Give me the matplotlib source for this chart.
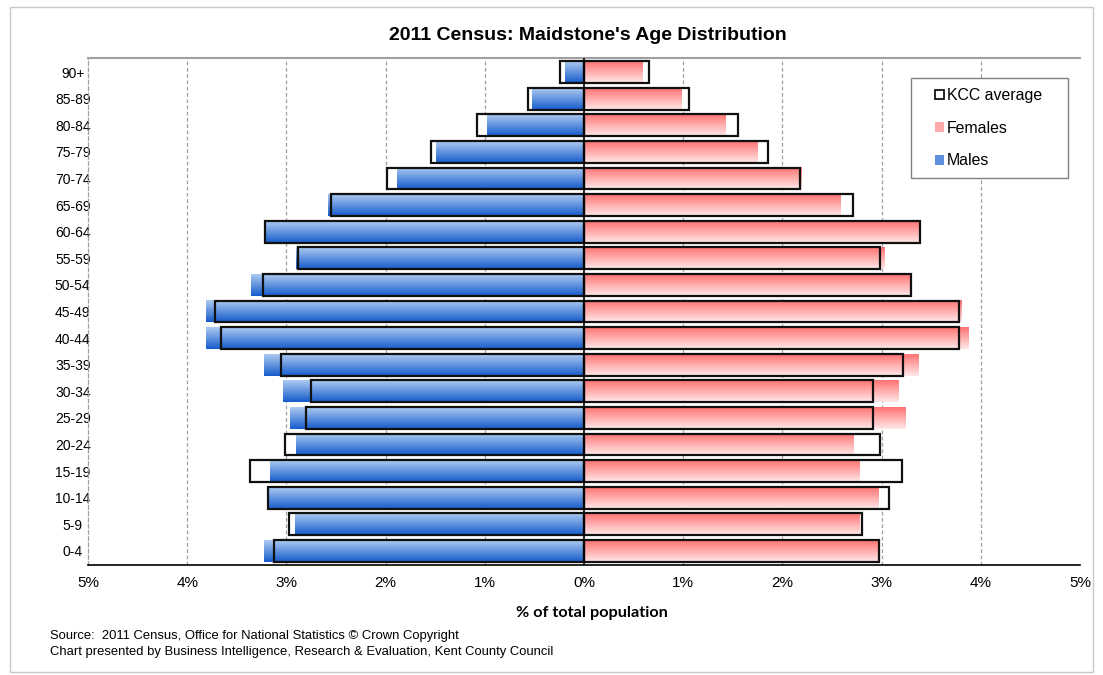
import numpy as np
import matplotlib
matplotlib.use("Agg")
import matplotlib.pyplot as plt
from matplotlib.patches import Patch, Rectangle

plt.rcParams['font.family'] = ['Liberation Sans', 'DejaVu Sans']

age_groups = ["0-4", "5-9", "10-14", "15-19", "20-24", "25-29", "30-34", "35-39",
              "40-44", "45-49", "50-54", "55-59", "60-64", "65-69", "70-74",
              "75-79", "80-84", "85-89", "90+"]
males = [3.23, 2.91, 3.185, 3.17, 2.90, 2.96, 3.03, 3.225, 3.81, 3.81, 3.36, 2.90,
         3.215, 2.58, 1.89, 1.49, 0.975, 0.52, 0.19]
females = [2.97, 2.78, 2.97, 2.78, 2.72, 3.24, 3.17, 3.37, 3.88, 3.81, 3.29, 3.03,
           3.38, 2.59, 2.195, 1.75, 1.43, 0.98, 0.59]
kcc_males = [3.13, 2.97, 3.185, 3.37, 3.01, 2.80, 2.75, 3.055, 3.66, 3.72, 3.24, 2.88,
             3.215, 2.55, 1.99, 1.54, 1.08, 0.56, 0.24]
kcc_females = [2.97, 2.80, 3.07, 3.21, 2.985, 2.91, 2.91, 3.22, 3.78, 3.78, 3.30, 2.98,
               3.39, 2.71, 2.18, 1.855, 1.55, 1.06, 0.66]
xticks = [-5, -4, -3, -2, -1, 0, 1, 2, 3, 4, 5]
xtick_labels = ["5%", "4%", "3%", "2%", "1%", "0%", "1%", "2%", "3%", "4%", "5%"]

title = "2011 Census: Maidstone's Age Distribution"
xlabel = "% of total population"
source1 = "Source:  2011 Census, Office for National Statistics \u00a9 Crown Copyright"
source2 = "Chart presented by Business Intelligence, Research & Evaluation, Kent County Council"

W, H = 1103, 675
fig = plt.figure(figsize=(W / 100, H / 100), dpi=100)
fig.patch.set_facecolor('white')
# outer chart frame
fig.patches.append(Rectangle((10 / W, 3 / H), 1083 / W, 665 / H, transform=fig.transFigure,
                             fill=False, edgecolor='#c8c8c8', lw=1.0))

ax = fig.add_axes([88 / W, 1 - 565 / H, 992 / W, 507 / H])
n = len(age_groups)
y = np.arange(n)
bh = 0.82

def gradient(top, bottom, steps=64):
    top = np.array(top) / 255.0
    bottom = np.array(bottom) / 255.0
    t = np.linspace(0, 1, steps)[:, None]
    g = top * (1 - t) + bottom * t
    return g[:, None, :]

blue_grad = gradient((172, 202, 240), (22, 92, 205))
pink_grad = gradient((255, 115, 115), (255, 232, 232))

# KCC white fill behind
ax.barh(y, [-v for v in kcc_males], height=bh, color='white', zorder=1)
ax.barh(y, kcc_females, height=bh, color='white', zorder=1)

for yi, m, f in zip(y, males, females):
    ax.imshow(blue_grad, extent=[-m, 0, yi - bh / 2, yi + bh / 2], aspect='auto',
              zorder=2, interpolation='bilinear')
    ax.imshow(pink_grad, extent=[0, f, yi - bh / 2, yi + bh / 2], aspect='auto',
              zorder=2, interpolation='bilinear')

# KCC outlines on top
ax.barh(y, [-v for v in kcc_males], height=bh, fill=False, edgecolor='#111111', lw=1.6, zorder=3)
ax.barh(y, kcc_females, height=bh, fill=False, edgecolor='#111111', lw=1.6, zorder=3)

ax.axvline(0, color='black', lw=1.2, zorder=4)
for xv in xticks:
    if xv not in (0, -5, 5):
        ax.axvline(xv, color='#a0a0a0', lw=0.9, ls=(0, (3, 2)), zorder=0.5)

ax.set_xlim(-5, 5)
ax.set_ylim(-0.53, n - 1 + 0.53)
ax.set_xticks(xticks)
ax.set_xticklabels(xtick_labels, fontsize=11)
ax.set_yticks(y)
ax.set_yticklabels(age_groups, fontsize=10, ha='center')
ax.tick_params(axis='y', length=0, pad=11)
ax.tick_params(axis='x', length=0, pad=8)

ax.spines['right'].set_visible(False)
ax.spines['top'].set_color('#a0a0a0')
ax.spines['top'].set_linewidth(1.5)
ax.spines['left'].set_color('#a0a0a0')
ax.spines['left'].set_linewidth(0.9)
ax.spines['left'].set_linestyle((0, (3, 2)))
ax.spines['bottom'].set_color('black')
ax.spines['bottom'].set_linewidth(1.2)

fig.text(588 / W, 1 - 35 / H, title, ha='center', va='center', fontsize=14, fontweight='bold')
fig.text(592 / W, 1 - 613 / H, xlabel, ha='center', va='center', fontsize=11.7,
         fontweight='bold', family=['Lato', 'DejaVu Sans'])
fig.text(50 / W, 1 - 636 / H, source1, ha='left', va='center', fontsize=9.4)
fig.text(50 / W, 1 - 652 / H, source2, ha='left', va='center', fontsize=9.4)

# legend frame drawn separately
fig.patches.append(Rectangle((911 / W, 1 - 178 / H), 157 / W, 100 / H, transform=fig.transFigure,
                             facecolor='white', edgecolor='#808080', lw=1.0, zorder=5))
handles = [Patch(facecolor='white', edgecolor='black', lw=1.2, label='KCC average'),
           Patch(facecolor='#ffaaaa', edgecolor='none', label='Females'),
           Patch(facecolor='#5f8fdc', edgecolor='none', label='Males')]
leg = fig.legend(handles=handles, loc='upper left',
                 bbox_to_anchor=(935 / W, 1 - 88 / H),
                 bbox_transform=fig.transFigure, borderaxespad=0, borderpad=0,
                 fontsize=11.4, handlelength=0.55, handleheight=0.55, handletextpad=0.2,
                 labelspacing=1.12, frameon=False)
leg.set_zorder(6)

fig.savefig('out.png', dpi=100, facecolor='white')
